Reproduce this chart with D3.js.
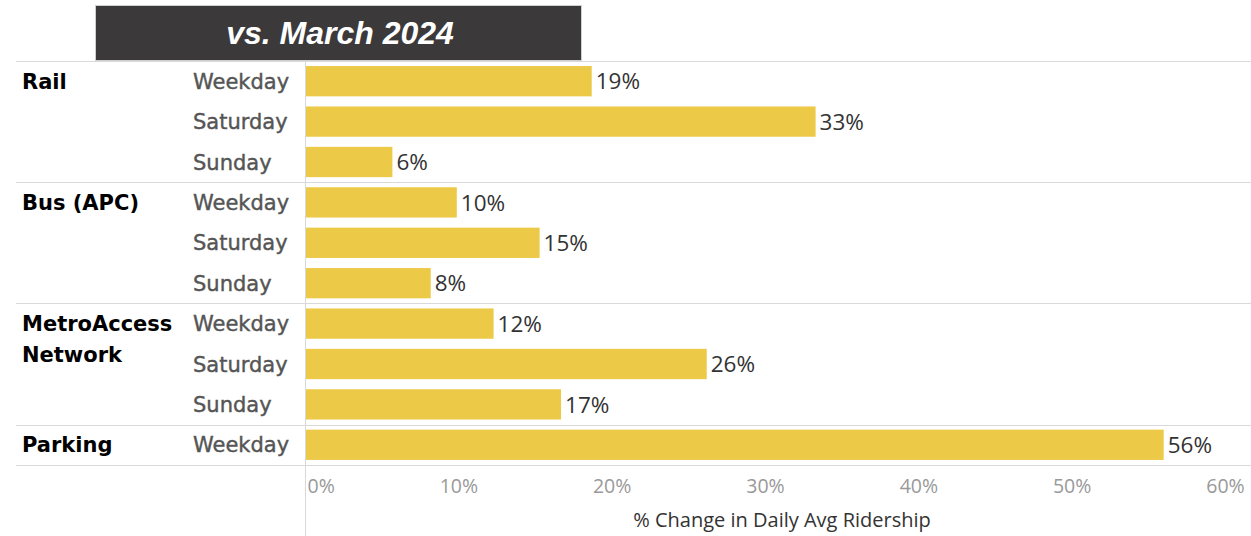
<!DOCTYPE html>
<html>
<head>
<meta charset="utf-8">
<script src="https://cdn.jsdelivr.net/npm/d3@7"></script>
<style>
  body { margin: 0; background: #fff; }
  svg { display: block; }
</style>
</head>
<body>
<div id="app"></div>
<script>
// values
const groups = ["Rail", "Bus (APC)", "MetroAccess Network", "Parking"]
const groupDays = [
  ["Weekday", "Saturday", "Sunday"],
  ["Weekday", "Saturday", "Sunday"],
  ["Weekday", "Saturday", "Sunday"],
  ["Weekday"]
]
const changeValues = [
  [0.187, 0.333, 0.057],
  [0.099, 0.153, 0.082],
  [0.123, 0.262, 0.167],
  [0.560]
]
const tickValues = [0, 0.1, 0.2, 0.3, 0.4, 0.5, 0.6]
const titleText = "vs. March 2024"
const axisTitle = "% Change in Daily Avg Ridership"

const width = 1251, height = 536
const plotLeft = 305, plotRight = 1225, plotTop = 61, plotBottom = 465
const gridColor = "#d9d9d9"

// flatten into rows
let rows = []
groups.forEach((g, gi) => {
  groupDays[gi].forEach((day, di) => {
    rows.push({ id: gi + "-" + di, group: g, gi: gi, day: day, first: di == 0, value: changeValues[gi][di] })
  })
})

const svg = d3.select('#app').append('svg')
  .attr('width', width)
  .attr('height', height)

const x = d3.scaleLinear().domain([0, 0.6]).range([plotLeft, plotRight])
const y = d3.scaleBand().domain(rows.map(d => d.id)).range([plotTop, plotBottom])
  .paddingInner(0.25).paddingOuter(0.125)

// title box
svg.append('rect')
  .attr('x', 95.5).attr('y', 5.5).attr('width', 486).attr('height', 55)
  .attr('fill', '#3b393a').attr('stroke', '#cfcfcf')
svg.append('text')
  .attr('x', 340).attr('y', 44)
  .attr('text-anchor', 'middle')
  .style('font-family', '"Liberation Sans", Arial, sans-serif')
  .style('font-size', '32px').style('font-weight', 'bold').style('font-style', 'italic')
  .attr('fill', '#fff')
  .text(titleText)

// group separators
const bounds = [plotTop]
groups.forEach((g, gi) => {
  const last = rows.filter(d => d.gi == gi).slice(-1)[0]
  bounds.push(y(last.id) + y.bandwidth() + y.step() * y.paddingInner() / 2)
})
bounds[bounds.length - 1] = plotBottom
svg.selectAll('line.sep')
  .data(bounds).enter().append('line')
  .attr('class', 'sep')
  .attr('x1', 16).attr('x2', width)
  .attr('y1', d => Math.round(d) + 0.5).attr('y2', d => Math.round(d) + 0.5)
  .attr('stroke', gridColor)

svg.append('line')
  .attr('x1', plotLeft + 0.5).attr('x2', plotLeft + 0.5)
  .attr('y1', plotTop).attr('y2', height)
  .attr('stroke', gridColor)

// bars
svg.selectAll('rect.bar')
  .data(rows).enter().append('rect')
  .attr('class', 'bar')
  .attr('x', x(0) + 1)
  .attr('y', d => y(d.id))
  .attr('width', d => x(d.value) - x(0) - 1)
  .attr('height', y.bandwidth())
  .attr('fill', '#edc948')

svg.selectAll('text.val')
  .data(rows).enter().append('text')
  .attr('class', 'val')
  .attr('x', d => x(d.value) + 4)
  .attr('y', d => y(d.id) + y.bandwidth() / 2)
  .attr('dy', '0.36em')
  .style('font-family', '"Open Sans", sans-serif')
  .style('font-size', '22.5px')
  .attr('fill', '#333')
  .text(d => d3.format('.0%')(d.value))

// row labels
svg.selectAll('text.day')
  .data(rows).enter().append('text')
  .attr('class', 'day')
  .attr('x', 193)
  .attr('y', d => y(d.id) + y.bandwidth() / 2)
  .attr('dy', '0.36em')
  .style('font-family', '"DejaVu Sans", sans-serif')
  .style('font-size', '21px')
  .attr('fill', '#555')
  .attr('stroke', '#555').attr('stroke-width', 0.4)
  .text(d => d.day)

// group labels, MetroAccess wraps over two lines
const groupLabels = svg.selectAll('text.group')
  .data(rows.filter(d => d.first)).enter().append('text')
  .attr('class', 'group')
  .attr('x', 22)
  .attr('y', d => y(d.id) + y.bandwidth() / 2)
  .style('font-family', '"DejaVu Sans", sans-serif')
  .style('font-size', '21px').style('font-weight', 'bold')
  .attr('fill', '#000')
groupLabels.each(function(d) {
  const words = d.group == "MetroAccess Network" ? ["MetroAccess", "Network"] : [d.group]
  d3.select(this).selectAll('tspan')
    .data(words).enter().append('tspan')
    .attr('x', 22)
    .attr('dy', (w, i) => i == 0 ? '0.36em' : '1.45em')
    .text(w => w)
})

// x axis
const axis = svg.append('g')
  .attr('transform', `translate(0,${plotBottom})`)
  .call(d3.axisBottom(x).tickValues(tickValues).tickFormat(d3.format('.0%')).tickSize(0).tickPadding(0))
axis.select('.domain').remove()
axis.selectAll('text')
  .attr('y', 28)
  .attr('dy', 0)
  .style('font-family', '"Open Sans", sans-serif')
  .style('font-size', '19.5px')
  .attr('fill', '#999')
  .attr('text-anchor', d => d == 0 ? 'start' : 'middle')
  .attr('dx', d => d == 0 ? 2 : 0)

svg.append('text')
  .attr('x', (plotLeft + plotRight) / 2 + 17)
  .attr('y', 527)
  .attr('text-anchor', 'middle')
  .style('font-family', '"Open Sans", sans-serif')
  .style('font-size', '20px')
  .attr('fill', '#333')
  .text(axisTitle)
</script>
</body>
</html>
